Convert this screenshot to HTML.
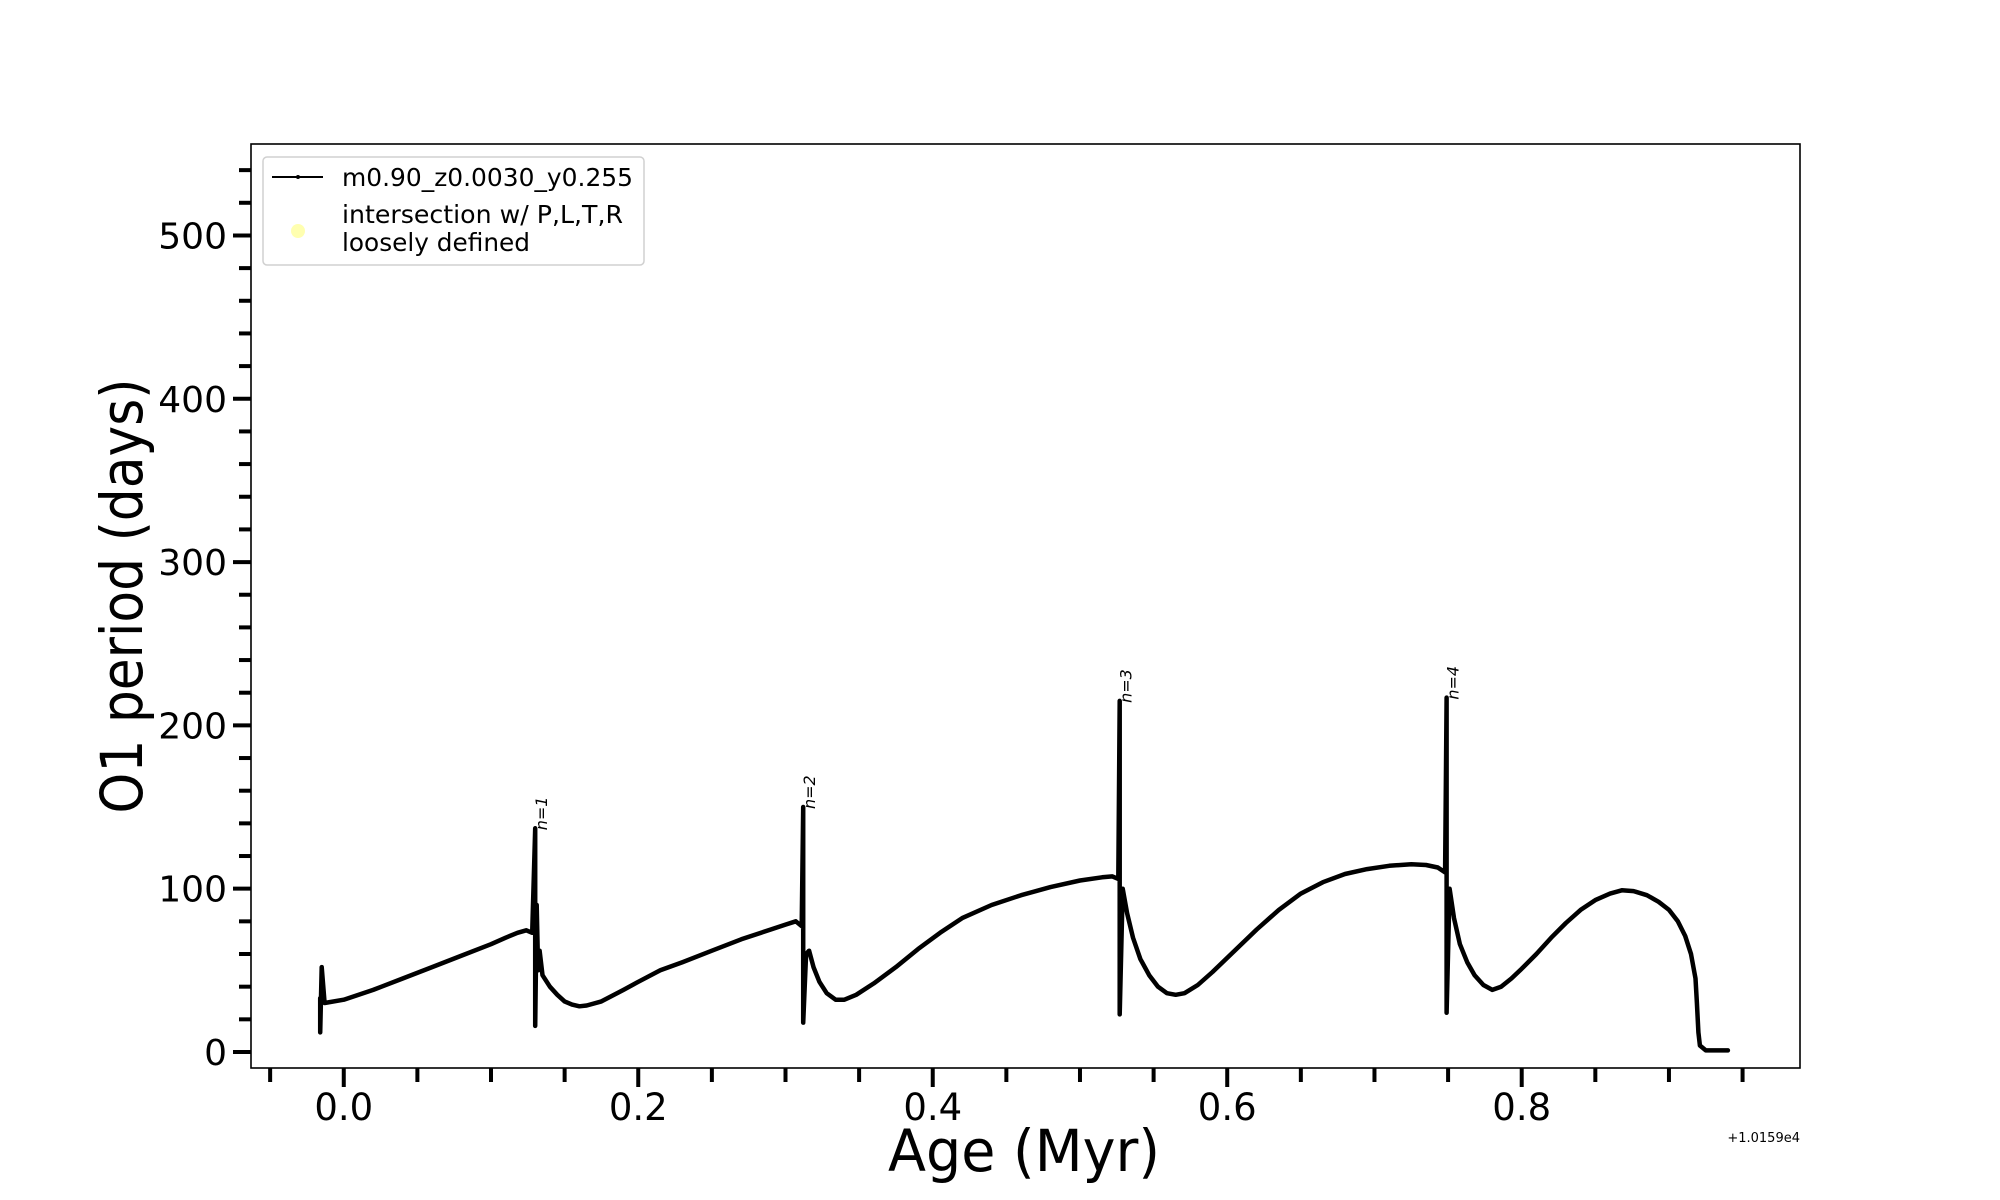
<!DOCTYPE html>
<html><head><meta charset="utf-8"><style>
html,body{margin:0;padding:0;background:#fff;}
svg{display:block;font-family:"DejaVu Sans","Liberation Sans",sans-serif;}
</style></head><body>
<svg id="chart" width="2000" height="1200" viewBox="0 0 2000 1200" xmlns="http://www.w3.org/2000/svg">
<rect x="0" y="0" width="2000" height="1200" fill="#fff"/>
<path id="series-line" fill="none" stroke="#000" stroke-width="4.5" stroke-linejoin="round" stroke-linecap="round"/>
<g id="annot-layer"></g>
<rect x="251" y="144" width="1549" height="924" fill="none" stroke="#000" stroke-width="1.6"/>
<g id="ticks-layer"></g>
<text x="122" y="596" font-size="58" text-anchor="middle" dominant-baseline="central" transform="rotate(-90 122 596)" textLength="435" lengthAdjust="spacingAndGlyphs">O1 period (days)</text>
<text x="1024" y="1171" font-size="58" text-anchor="middle" textLength="272" lengthAdjust="spacingAndGlyphs">Age (Myr)</text>
<text x="1800" y="1142" font-size="13" text-anchor="end">+1.0159e4</text>
<g>
<rect x="263" y="157" width="381" height="108" rx="4" fill="#fff" fill-opacity="0.8" stroke="#d0d0d0" stroke-width="1.5"/>
<line x1="272" y1="177" x2="323" y2="177" stroke="#000" stroke-width="2"/>
<circle cx="298" cy="177" r="2" fill="#000"/>
<text x="342" y="186" font-size="25" textLength="291" lengthAdjust="spacingAndGlyphs">m0.90_z0.0030_y0.255</text>
<circle cx="298" cy="231" r="7" fill="#ffffb0"/>
<text x="342" y="223" font-size="25" textLength="281" lengthAdjust="spacingAndGlyphs">intersection w/ P,L,T,R</text>
<text x="342" y="251" font-size="25" textLength="188" lengthAdjust="spacingAndGlyphs">loosely defined</text>
</g>
</svg>
<script>
const ages = [-0.016,-0.016,-0.015,-0.013,0.0,0.02,0.04,0.06,0.08,0.1,0.11,0.118,0.124,0.128,0.130,0.130,0.131,0.132,0.133,0.135,0.14,0.145,0.15,0.155,0.16,0.165,0.175,0.19,0.2,0.215,0.23,0.25,0.27,0.29,0.3,0.307,0.311,0.312,0.312,0.314,0.316,0.319,0.323,0.328,0.334,0.34,0.348,0.36,0.375,0.39,0.405,0.42,0.44,0.46,0.48,0.5,0.515,0.522,0.526,0.527,0.527,0.529,0.532,0.536,0.541,0.547,0.553,0.559,0.565,0.571,0.58,0.59,0.605,0.62,0.635,0.65,0.665,0.68,0.695,0.71,0.725,0.735,0.743,0.748,0.749,0.749,0.751,0.754,0.758,0.763,0.768,0.774,0.78,0.786,0.793,0.8,0.81,0.82,0.83,0.84,0.85,0.86,0.868,0.876,0.885,0.893,0.9,0.906,0.911,0.915,0.918,0.919,0.92,0.921,0.925,0.94];
const periods = [33,12,52,30,32,38,45,52,59,66,70,73,74.5,73,137,16,90,50,62,47,40,35,31,29,28,28.5,31,38,43,50,55,62,69,75,78,80,77,150,18,60,62,52,43,36,32,32,35,42,52,63,73,82,90,96,101,105,107,107.5,106,215,23,100,85,70,57,47,40,36,35,36,41,49,62,75,87,97,104,109,112,114,115,114.5,113,110,217,24,100,82,66,55,47,41,38,40,45,51,60,70,79,87,93,97,99,98.5,96,92,87,80,71,60,45,30,12,4,1,1];
const spikeAges = [0.130,0.312,0.527,0.749];
const spikePeaks = [137,150,215,217];
const spikeLabels = ["n=1","n=2","n=3","n=4"];
const xMajor = [0.0,0.2,0.4,0.6,0.8];
const xMajorLabels = ["0.0","0.2","0.4","0.6","0.8"];
const yMajor = [0,100,200,300,400,500];
const yMajorLabels = ["0","100","200","300","400","500"];

const X0=251,X1=1800,Y0=1068,Y1=144;
const xmin=-0.063,xmax=0.989,ymin=-9.8,ymax=556;
function sx(v){return X0+(v-xmin)/(xmax-xmin)*(X1-X0);}
function sy(v){return Y0-(v-ymin)/(ymax-ymin)*(Y0-Y1);}
const NS="http://www.w3.org/2000/svg";

let d="";
for(let i=0;i<ages.length;i++){d+=(i?"L":"M")+sx(ages[i]).toFixed(1)+" "+sy(periods[i]).toFixed(1);}
document.getElementById("series-line").setAttribute("d",d);

const ann=document.getElementById("annot-layer");
for(let i=0;i<spikeAges.length;i++){
  const t=document.createElementNS(NS,"text");
  const x=sx(spikeAges[i])+12, y=sy(spikePeaks[i])+2;
  t.setAttribute("x",x);t.setAttribute("y",y);
  t.setAttribute("font-size","16");
  t.setAttribute("font-style","italic");
  t.setAttribute("transform","rotate(-90 "+x+" "+y+")");
  t.textContent=spikeLabels[i];
  
  
  ann.appendChild(t);
}

const tk=document.getElementById("ticks-layer");
function line(x1,y1,x2,y2,name){
  const l=document.createElementNS(NS,"line");
  l.setAttribute("x1",x1);l.setAttribute("y1",y1);l.setAttribute("x2",x2);l.setAttribute("y2",y2);
  l.setAttribute("stroke","#000");l.setAttribute("stroke-width","4");
  
  
  tk.appendChild(l);
}
function text(x,y,s,anchor,size,name){
  const t=document.createElementNS(NS,"text");
  t.setAttribute("x",x);t.setAttribute("y",y);t.setAttribute("font-size",size);
  t.setAttribute("text-anchor",anchor);t.textContent=s;
  
  
  tk.appendChild(t);
}
for(let k=-1;k<=19;k++){
  const v=k*0.05; if(v<xmin||v>xmax) continue;
  const major=(k%4===0);
  line(sx(v),Y0,sx(v),Y0+(major?19:14),major?"x-major-tick":"x-minor-tick");
}
for(let i=0;i<xMajor.length;i++){text(sx(xMajor[i]),1120,xMajorLabels[i],"middle",37,"x-tick-label");}
for(let k=0;k<=27;k++){
  const v=k*20; if(v>ymax) continue;
  const major=(k%5===0);
  line(X0,sy(v),X0-(major?18:12),sy(v),major?"y-major-tick":"y-minor-tick");
}
for(let i=0;i<yMajor.length;i++){text(227,sy(yMajor[i])+13,yMajorLabels[i],"end",36,"y-tick-label");}
</script>
</body></html>
